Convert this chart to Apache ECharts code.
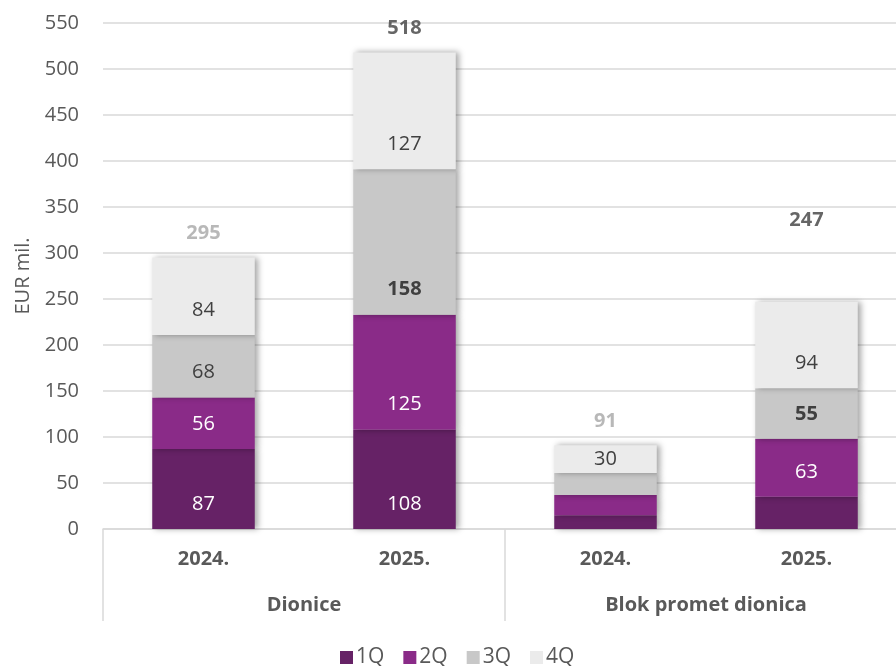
<!DOCTYPE html>
<html>
<head>
<meta charset="utf-8">
<script src="https://cdn.jsdelivr.net/npm/echarts@6/dist/echarts.min.js"></script>
<style>html,body{margin:0;padding:0;background:#fff}#c{width:896px;height:666px}</style>
</head>
<body>
<div id="c"></div>
<script>
const years = ['2024.', '2025.', '2024.', '2025.'];
const groups = ['Dionice', 'Blok promet dionica'];
const seriesNames = ['1Q', '2Q', '3Q', '4Q'];
const q1 = [87, 108, 15, 35];
const q2 = [56, 125, 22, 63];
const q3 = [68, 158, 24, 55];
const q4 = [84, 127, 30, 94];
const totals = [295, 518, 91, 247];
// which segment labels are shown in the reference
const showQ1 = [true, true, false, false];
const showQ2 = [true, true, false, true];
const showQ3 = [true, true, false, true];
const showQ4 = [true, true, true, true];

const FONT = 'Open Sans';
const colors = ['#662266', '#8A2B88', '#C8C8C8', '#EBEBEB'];
const labelColors = ['#FFFFFF', '#FFFFFF', '#404040', '#404040'];
const boldMap = {'2-1': true, '2-3': true};

const chart = echarts.init(document.getElementById('c'), null, {renderer: 'canvas'});

const values = [q1, q2, q3, q4];
const shows = [showQ1, showQ2, showQ3, showQ4];

const barSeries = values.map((arr, si) => ({
  name: seriesNames[si],
  type: 'bar',
  stack: 'total',
  barWidth: '51%',
  xAxisIndex: 0,
  itemStyle: {
    color: colors[si],
    shadowColor: 'rgba(0,0,0,0.35)',
    shadowBlur: 6,
    shadowOffsetX: 3,
    shadowOffsetY: 0
  },
  label: {
    show: true,
    position: 'insideBottom',
    distance: 15,
    color: labelColors[si],
    fontFamily: FONT,
    fontSize: 20
  },
  data: arr.map((v, i) => {
    const small = v * 0.92 < 34;
    return {
      value: v,
      label: {
        show: shows[si][i],
        position: small ? 'inside' : 'insideBottom',
        fontWeight: boldMap[si + '-' + i] ? 'bold' : 'normal'
      }
    };
  })
}));

const totalColors = ['#A6A6A6', '#404040', '#A6A6A6', '#404040'];
const totalSeries = {
  name: 'total',
  type: 'scatter',
  xAxisIndex: 0,
  symbolSize: 0,
  silent: true,
  z: 10,
  data: totals.map((v, i) => ({
    value: v,
    label: {
      show: true,
      position: 'top',
      distance: 14,
      offset: i === 3 ? [0, -57] : [0, 0],
      color: totalColors[i],
      fontWeight: 'bold',
      fontFamily: FONT,
      fontSize: 20,
      formatter: String(v)
    }
  }))
};

chart.setOption({
  animation: false,
  textStyle: {fontFamily: FONT},
  grid: {left: 103, top: 23, width: 804, height: 506, containLabel: false, outerBoundsMode: 'none'},
  legend: {
    data: seriesNames,
    top: 642,
    left: 335,
    icon: 'rect',
    itemWidth: 13,
    itemHeight: 13,
    itemGap: 19,
    textStyle: {color: '#595959', fontSize: 21, fontFamily: FONT, padding: [0, 0, 0, -2]}
  },
  xAxis: [
    {
      type: 'category',
      data: years,
      position: 'bottom',
      axisLine: {show: true, lineStyle: {color: '#D9D9D9', width: 1.5}},
      axisTick: {show: false},
      axisLabel: {color: '#595959', fontWeight: 'bold', fontSize: 20, fontFamily: FONT, margin: 20}
    },
    {
      type: 'category',
      data: groups,
      position: 'bottom',
      axisLine: {show: false},
      axisTick: {show: true, length: 92, lineStyle: {color: '#D9D9D9', width: 1.5}},
      axisLabel: {color: '#595959', fontWeight: 'bold', fontSize: 20, fontFamily: FONT, margin: 66}
    }
  ],
  yAxis: {
    type: 'value',
    min: 0,
    max: 550,
    interval: 50,
    name: 'EUR mil.',
    nameLocation: 'middle',
    nameRotate: 90,
    nameGap: 70,
    nameTextStyle: {color: '#595959', fontSize: 20, fontFamily: FONT},
    axisLine: {show: false},
    axisTick: {show: false},
    axisLabel: {color: '#595959', fontSize: 20, fontFamily: FONT, margin: 24},
    splitLine: {lineStyle: {color: '#D9D9D9', width: 1.5}}
  },
  series: [...barSeries, totalSeries]
});
</script>
</body>
</html>
